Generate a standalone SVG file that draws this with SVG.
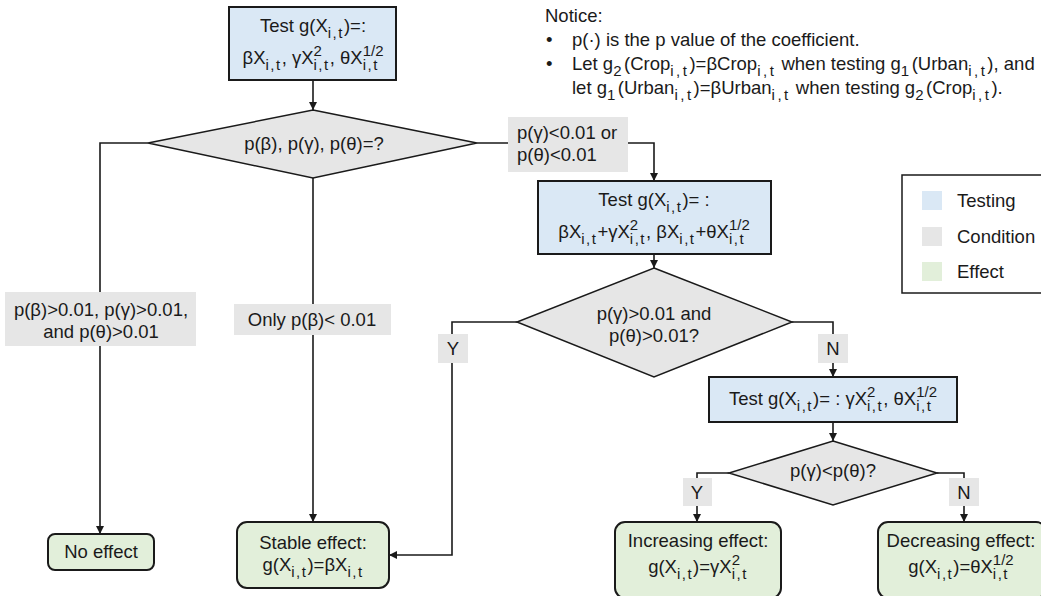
<svg xmlns="http://www.w3.org/2000/svg" width="1041" height="596" viewBox="0 0 1041 596">
<defs>
<marker id="ah" viewBox="0 0 10 10" refX="10" refY="5" markerWidth="8" markerHeight="8" markerUnits="userSpaceOnUse" orient="auto">
<path d="M0,0 L10,5 L0,10 z" fill="#1a1a1a"/>
</marker>
<style>
text{font-family:"Liberation Sans",Arial,sans-serif;font-size:18.5px;fill:#1a1a1a}
.m{text-anchor:middle}
.s{font-size:15px;letter-spacing:1.5px}
.sn{font-size:15px;letter-spacing:2.5px}
.p{font-size:15px}
.test{fill:#dae8f5;stroke:#1a1a1a;stroke-width:2}
.cond{fill:#e6e6e6;stroke:#1a1a1a;stroke-width:1.5}
.lbl{fill:#e6e6e6}
.eff{fill:#e2efda;stroke:#1a1a1a;stroke-width:2}
.conn{fill:none;stroke:#1a1a1a;stroke-width:1.6}
.arr{marker-end:url(#ah)}
</style>
</defs>
<rect width="1041" height="596" fill="#ffffff"/>

<g id="connectors">
<path class="conn arr" d="M313,80 V110"/>
<path class="conn arr" d="M148,143 H100 V534"/>
<path class="conn arr" d="M313,178 V522"/>
<path class="conn arr" d="M477,143 H654 V181"/>
<path class="conn arr" d="M654,254 V268"/>
<path class="conn arr" d="M517,322 H452 V555 H389"/>
<path class="conn arr" d="M792,322 H833 V377"/>
<path class="conn arr" d="M833,422 V441"/>
<path class="conn arr" d="M729,473 H697 V522"/>
<path class="conn arr" d="M937,473 H964 V522"/>
</g>

<g id="notice">
<text x="545" y="22">Notice:</text>
<text x="546" y="46">•</text>
<text x="572" y="46">p(·) is the p value of the coefficient.</text>
<text x="546" y="70">•</text>
<text x="572" y="70">Let g<tspan class="sn" dy="6">2</tspan><tspan dy="-6">(Crop</tspan><tspan class="sn" dy="6">i,t</tspan><tspan dy="-6">)=βCrop</tspan><tspan class="sn" dy="6">i,t</tspan><tspan dy="-6"> when testing g</tspan><tspan class="sn" dy="6">1</tspan><tspan dy="-6">(Urban</tspan><tspan class="sn" dy="6">i,t</tspan><tspan dy="-6">), and</tspan></text>
<text x="572" y="94">let g<tspan class="sn" dy="6">1</tspan><tspan dy="-6">(Urban</tspan><tspan class="sn" dy="6">i,t</tspan><tspan dy="-6">)=βUrban</tspan><tspan class="sn" dy="6">i,t</tspan><tspan dy="-6"> when testing g</tspan><tspan class="sn" dy="6">2</tspan><tspan dy="-6">(Crop</tspan><tspan class="sn" dy="6">i,t</tspan><tspan dy="-6">).</tspan></text>
</g>

<g id="test1">
<rect class="test" x="229" y="7" width="167" height="73"/>
<text class="m" x="313" y="32">Test g(X<tspan class="s" dy="6">i,t</tspan><tspan dy="-6">)=:</tspan></text>
<text class="m" x="313" y="64">βX<tspan class="s" dy="6">i,t</tspan><tspan dy="-6">, γX</tspan><tspan class="s" dy="6">i,t</tspan><tspan class="p" dx="-16.2" dy="-14">2</tspan><tspan dx="7.9" dy="8">, θX</tspan><tspan class="s" dy="6">i,t</tspan><tspan class="p" dx="-16.2" dy="-14">1/2</tspan></text>
</g>

<g id="cond1">
<polygon class="cond" points="313,110 477,143 313,178 148,143"/>
<text class="m" x="314" y="150">p(β), p(γ), p(θ)=?</text>
</g>

<g id="label-none">
<rect class="lbl" x="5" y="292" width="191" height="54"/>
<text class="m" x="101" y="316">p(β)&gt;0.01, p(γ)&gt;0.01,</text>
<text class="m" x="101" y="338">and p(θ)&gt;0.01</text>
</g>

<g id="label-only">
<rect class="lbl" x="234" y="304" width="157" height="31"/>
<text class="m" x="312" y="326">Only p(β)&lt; 0.01</text>
</g>

<g id="label-or">
<rect class="lbl" x="508" y="117" width="120" height="55"/>
<text x="517" y="139">p(γ)&lt;0.01 or</text>
<text x="517" y="161">p(θ)&lt;0.01</text>
</g>

<g id="test2">
<rect class="test" x="538" y="181" width="233" height="73"/>
<text class="m" x="654" y="206">Test g(X<tspan class="s" dy="6">i,t</tspan><tspan dy="-6">)= :</tspan></text>
<text class="m" x="654" y="238">βX<tspan class="s" dy="6">i,t</tspan><tspan dy="-6">+γX</tspan><tspan class="s" dy="6">i,t</tspan><tspan class="p" dx="-16.2" dy="-14">2</tspan><tspan dx="7.9" dy="8">, βX</tspan><tspan class="s" dy="6">i,t</tspan><tspan dy="-6">+θX</tspan><tspan class="s" dy="6">i,t</tspan><tspan class="p" dx="-16.2" dy="-14">1/2</tspan></text>
</g>

<g id="legend">
<rect x="902" y="175" width="145" height="118" fill="#ffffff" stroke="#1a1a1a" stroke-width="1.5"/>
<rect x="922" y="191" width="20" height="19" fill="#dae8f5"/>
<text x="957" y="207">Testing</text>
<rect x="922" y="227" width="20" height="19" fill="#e6e6e6"/>
<text x="957" y="243">Condition</text>
<rect x="922" y="262" width="20" height="19" fill="#e2efda"/>
<text x="957" y="278">Effect</text>
</g>

<g id="cond2">
<polygon class="cond" points="654,268 792,322 654,377 517,322"/>
<text class="m" x="654" y="320">p(γ)&gt;0.01 and</text>
<text class="m" x="654" y="342">p(θ)&gt;0.01?</text>
</g>

<g id="label-y1">
<rect class="lbl" x="438" y="334" width="30" height="29"/>
<text class="m" x="453" y="355">Y</text>
</g>
<g id="label-n1">
<rect class="lbl" x="818" y="334" width="30" height="29"/>
<text class="m" x="833" y="355">N</text>
</g>

<g id="test3">
<rect class="test" x="709" y="377" width="248" height="45"/>
<text class="m" x="833" y="405">Test g(X<tspan class="s" dy="6">i,t</tspan><tspan dy="-6">)= : γX</tspan><tspan class="s" dy="6">i,t</tspan><tspan class="p" dx="-16.2" dy="-14">2</tspan><tspan dx="7.9" dy="8">, θX</tspan><tspan class="s" dy="6">i,t</tspan><tspan class="p" dx="-16.2" dy="-14">1/2</tspan></text>
</g>

<g id="cond3">
<polygon class="cond" points="833,441 937,473 833,505 729,473"/>
<text class="m" x="833" y="477">p(γ)&lt;p(θ)?</text>
</g>

<g id="label-y2">
<rect class="lbl" x="683" y="478" width="29" height="28"/>
<text class="m" x="697" y="499">Y</text>
</g>
<g id="label-n2">
<rect class="lbl" x="949" y="478" width="30" height="28"/>
<text class="m" x="964" y="499">N</text>
</g>

<g id="no-effect">
<rect class="eff" x="48" y="534" width="106" height="36" rx="7"/>
<text class="m" x="101" y="558">No effect</text>
</g>

<g id="stable-effect">
<rect class="eff" x="237" y="522" width="152" height="66" rx="10"/>
<text class="m" x="313" y="549">Stable effect:</text>
<text class="m" x="313" y="571">g(X<tspan class="s" dy="6">i,t</tspan><tspan dy="-6">)=βX</tspan><tspan class="s" dy="6">i,t</tspan></text>
</g>

<g id="increasing-effect">
<rect class="eff" x="615" y="522" width="166" height="76" rx="10"/>
<text class="m" x="698" y="547">Increasing effect:</text>
<text class="m" x="698" y="573">g(X<tspan class="s" dy="6">i,t</tspan><tspan dy="-6">)=γX</tspan><tspan class="s" dy="6">i,t</tspan><tspan class="p" dx="-16.2" dy="-14">2</tspan></text>
</g>

<g id="decreasing-effect">
<rect class="eff" x="878" y="522" width="168" height="76" rx="10"/>
<text class="m" x="961" y="547">Decreasing effect:</text>
<text class="m" x="961" y="573">g(X<tspan class="s" dy="6">i,t</tspan><tspan dy="-6">)=θX</tspan><tspan class="s" dy="6">i,t</tspan><tspan class="p" dx="-16.2" dy="-14">1/2</tspan></text>
</g>
</svg>
